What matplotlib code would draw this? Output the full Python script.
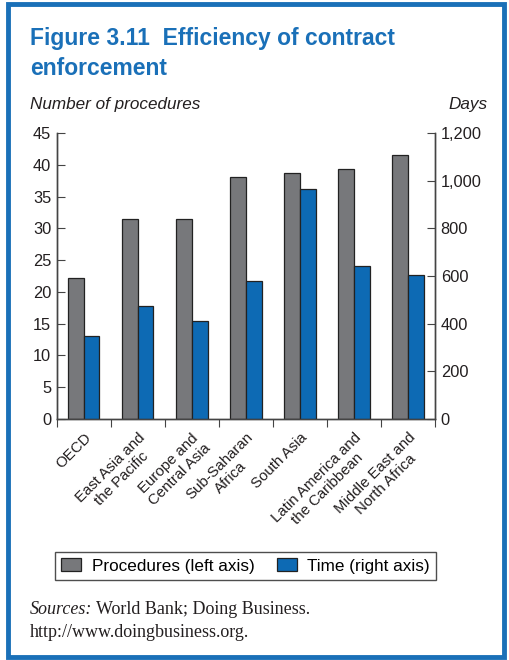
import matplotlib.pyplot as plt
import numpy as np
from matplotlib.patches import Rectangle, Patch

regions = ["OECD", "East Asia and\nthe Pacific", "Europe and\nCentral Asia",
           "Sub-Saharan\nAfrica", "South Asia", "Latin America and\nthe Caribbean",
           "Middle East and\nNorth Africa"]
procedures = [22.2, 31.5, 31.5, 38.0, 38.7, 39.3, 41.6]
days = [348, 476, 409, 580, 965, 640, 603]

GRAY = "#77787b"
BLUE = "#0d6ab4"
FRAME = "#1a70b8"
TXT = "#231f20"

plt.rcParams["font.family"] = ["Liberation Sans", "DejaVu Sans"]

fig = plt.figure(figsize=(5.09, 6.6), dpi=100)
ax = fig.add_axes([0.1114, 0.3652, 0.7434, 0.4333])
ax2 = ax.twinx()

x = np.arange(len(regions))
w = 0.29
ax.bar(x - w / 2, procedures, w, color=GRAY, edgecolor="#222222", linewidth=0.9)
ax2.bar(x + w / 2, days, w, color=BLUE, edgecolor="#222222", linewidth=0.9)

ax.set_xlim(-0.5, len(regions) - 0.5)
ax.set_ylim(0, 45)
ax2.set_ylim(0, 1200)
ax.set_yticks(range(0, 46, 5))
ax2.set_yticks(range(0, 1201, 200))
ax2.set_yticklabels([f"{v:,}" for v in range(0, 1201, 200)])

for a in (ax, ax2):
    a.spines["top"].set_visible(False)
    for s in a.spines.values():
        s.set_color("#444444")
        s.set_linewidth(1.0)
ax.tick_params(axis="y", direction="in", length=6, labelsize=11.8, colors="#444444",
               labelcolor=TXT, pad=4)
ax2.tick_params(axis="y", direction="in", length=6, labelsize=11.8, colors="#444444",
                labelcolor=TXT, pad=4)

# category boundary ticks
ax.set_xticks(np.arange(-0.5, len(regions), 1.0))
ax.set_xticklabels([])
ax.tick_params(axis="x", direction="out", length=6, colors="#444444")
ax.set_xticks(x, minor=True)
ax.set_xticklabels(regions, minor=True, rotation=45, ha="right", rotation_mode="anchor",
                   fontsize=10.8, color=TXT, multialignment="center")
ax.tick_params(axis="x", which="minor", length=0, pad=8)

fig.text(0.059, 0.959, "Figure 3.11  Efficiency of contract\nenforcement", fontsize=16.5,
         fontweight="bold", color=FRAME, va="top", linespacing=1.38)
fig.text(0.059, 0.842, "Number of procedures", fontsize=12.3, style="italic", color=TXT,
         va="center")
fig.text(0.957, 0.842, "Days", fontsize=12.3, style="italic", color=TXT, va="center", ha="right")

handles = [Patch(facecolor=GRAY, edgecolor="#222222", linewidth=0.9),
           Patch(facecolor=BLUE, edgecolor="#222222", linewidth=0.9)]
fig.legend(handles, ["Procedures (left axis)", "Time (right axis)"], loc="center",
           bbox_to_anchor=(0.482, 0.1425), ncol=2, fontsize=12.3, frameon=True,
           fancybox=False, edgecolor="#222222", handlelength=1.2, handleheight=0.8,
           columnspacing=1.3, handletextpad=0.6, borderpad=0.35, borderaxespad=0.3)

src = fig.text(0.059, 0.077, "Sources:", fontsize=13, style="italic", color=TXT,
               family="Liberation Serif", va="center")
fig.canvas.draw()
bb = src.get_window_extent().transformed(fig.transFigure.inverted())
fig.text(bb.x1 + 0.008, 0.077, "World Bank; Doing Business.", fontsize=13, color=TXT,
         family="Liberation Serif", va="center")
fig.text(0.059, 0.042, "http://www.doingbusiness.org.", fontsize=13, color=TXT,
         family="Liberation Serif", va="center")

fig.patches.append(Rectangle((0.016, 0.0045), 0.974, 0.99, transform=fig.transFigure,
                             fill=False, edgecolor=FRAME, linewidth=3.5))

fig.savefig("out.png", dpi=100)
